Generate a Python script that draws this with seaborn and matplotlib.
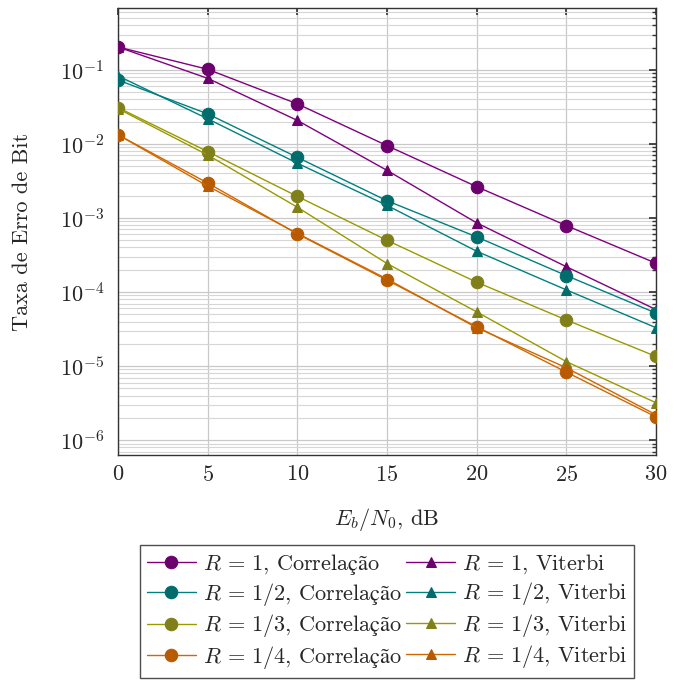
import matplotlib
matplotlib.use("Agg")
import matplotlib.pyplot as plt
import seaborn as sns
import numpy as np
import pandas as pd
from matplotlib.ticker import LogLocator, NullFormatter, FixedLocator

sns.set_theme(style="white")
plt.rcParams['font.family'] = ['cmr10', 'DejaVu Serif']
plt.rcParams['mathtext.fontset'] = 'cm'
plt.rcParams['axes.unicode_minus'] = False
plt.rcParams['axes.formatter.use_mathtext'] = True

ebn0 = [0, 5, 10, 15, 20, 25, 30]
r1_corr = [0.204, 0.102, 0.0348, 0.0095, 0.00265, 0.00079, 0.000245]
r1_vit = [0.204, 0.077, 0.0208, 0.0044, 0.00086, 0.00022, 0.000058]
r2_corr = [0.073, 0.0255, 0.0066, 0.00171, 0.000556, 0.000167, 0.000052]
r2_vit = [0.083, 0.0219, 0.0055, 0.00148, 0.000356, 0.000107, 0.000033]
r3_corr = [0.031, 0.0079, 0.00196, 0.0005, 0.000136, 0.000042, 0.0000135]
r3_vit = [0.030, 0.0071, 0.0014, 0.000243, 0.000054, 0.0000115, 0.0000032]
r4_corr = [0.0133, 0.00297, 0.00061, 0.000145, 0.000034, 0.0000083, 0.00000206]
r4_vit = [0.0133, 0.0027, 0.00062, 0.00015, 0.000033, 0.0000095, 0.0000022]

labels_corr = ["$R\\,=\\,1$, Correla$\\mathrm{ção}$", "$R\\,=\\,1/2$, Correla$\\mathrm{ção}$",
               "$R\\,=\\,1/3$, Correla$\\mathrm{ção}$", "$R\\,=\\,1/4$, Correla$\\mathrm{ção}$"]
labels_vit = ["$R\\,=\\,1$, Viterbi", "$R\\,=\\,1/2$, Viterbi",
              "$R\\,=\\,1/3$, Viterbi", "$R\\,=\\,1/4$, Viterbi"]
line_colors = ["#800080", "#008080", "#9a9a00", "#d06800"]
mark_colors = ["#6c006c", "#006c6c", "#80801a", "#b85a00"]

fig = plt.figure(figsize=(6.84, 6.80), dpi=100)
ax = fig.add_axes([118/684, 1-455/680, (656-118)/684, (455-8)/680])

for i, (yc, yv) in enumerate(zip([r1_corr, r2_corr, r3_corr, r4_corr], [r1_vit, r2_vit, r3_vit, r4_vit])):
    dc = pd.DataFrame({"x": ebn0, "y": yc})
    dv = pd.DataFrame({"x": ebn0, "y": yv})
    sns.lineplot(data=dc, x="x", y="y", ax=ax, color=line_colors[i], lw=1.0,
                 marker="o", markersize=9, markerfacecolor=mark_colors[i],
                 markeredgecolor=mark_colors[i], label=labels_corr[i], zorder=3)
    sns.lineplot(data=dv, x="x", y="y", ax=ax, color=line_colors[i], lw=1.0,
                 marker="^", markersize=7.5, markerfacecolor=mark_colors[i],
                 markeredgecolor=mark_colors[i], label=labels_vit[i], zorder=3)

ax.set_yscale("log")
ax.set_xlim(0, 30)
ax.set_ylim(6.3e-7, 0.686)
ax.set_xticks([0, 5, 10, 15, 20, 25, 30])
ax.yaxis.set_major_locator(FixedLocator([1e-6, 1e-5, 1e-4, 1e-3, 1e-2, 1e-1]))
ax.yaxis.set_minor_locator(LogLocator(base=10, subs=np.arange(2, 10), numticks=20))
ax.yaxis.set_minor_formatter(NullFormatter())
ax.grid(True, which="major", color="#c8c8c8", lw=0.9)
ax.grid(True, which="minor", axis="y", color="#d6d6d6", lw=0.8)
ax.set_axisbelow(True)
ax.tick_params(which="both", direction="in", top=True, right=True, labelsize=16, color="#333333")
ax.tick_params(which="major", length=5)
ax.tick_params(axis="x", which="major", pad=7)
ax.tick_params(axis="y", which="major", pad=10)
ax.tick_params(which="minor", length=3)
for s in ax.spines.values():
    s.set_color("#333333")
    s.set_linewidth(1.0)

ax.set_xlabel("$E_b/N_0$, dB", fontsize=16, labelpad=15)
ax.set_ylabel("Taxa de Erro de Bit", fontsize=16, labelpad=20)

h, l = ax.get_legend_handles_labels()
order = [0, 2, 4, 6, 1, 3, 5, 7]
leg = ax.legend([h[k] for k in order], [l[k] for k in order], ncol=2,
                loc="upper center", bbox_to_anchor=(0.5, -0.201), fontsize=16,
                frameon=True, fancybox=False, edgecolor="#222222",
                columnspacing=0.2, handletextpad=0.3, handlelength=2.2,
                borderpad=0.3, labelspacing=0.2, borderaxespad=0)
leg.get_frame().set_linewidth(1.0)

fig.savefig("out.png", dpi=100)
